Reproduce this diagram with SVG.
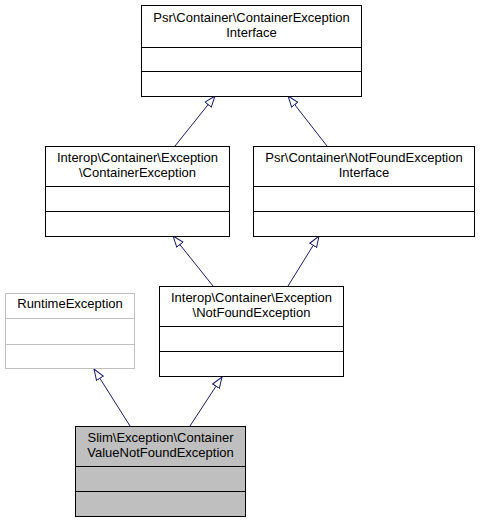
<svg xmlns="http://www.w3.org/2000/svg" width="481" height="523" viewBox="0 0 481 523">
<style>
text{font-family:"Liberation Sans",Arial,sans-serif;font-size:13px;fill:#000;text-anchor:middle}
.box{fill:#fff;stroke:#000;stroke-width:1}
.gray{fill:#fff;stroke:#bfbfbf;stroke-width:1}
.cur{fill:#bfbfbf;stroke:#000;stroke-width:1}
.sep{stroke:#000;stroke-width:1}
.sepg{stroke:#bfbfbf;stroke-width:1}
.edge{fill:none;stroke:#191970;stroke-width:1;marker-end:url(#tri)}
</style>
<defs>
<marker id="tri" markerUnits="userSpaceOnUse" viewBox="0 0 12 10" refX="11.5" refY="5" markerWidth="12" markerHeight="10" orient="auto">
<path d="M0.5,1 L11.5,5 L0.5,9 Z" fill="#fff" stroke="#191970" stroke-width="1"/>
</marker>
</defs>
<g id="edges">
<path class="edge" d="M175,146 L215,96"/>
<path class="edge" d="M327,146 L288,96"/>
<path class="edge" d="M213,286 L173,236"/>
<path class="edge" d="M288,286 L319,236"/>
<path class="edge" d="M130,426 L94,369"/>
<path class="edge" d="M190,426 L222,377"/>
</g>
<g id="node_psr_container_exception_interface">
<rect class="box" x="141.5" y="5.5" width="220" height="91"/>
<line class="sep" x1="141.5" y1="47.5" x2="361.5" y2="47.5"/>
<line class="sep" x1="141.5" y1="71.5" x2="361.5" y2="71.5"/>
<text x="251.5" y="22">Psr\Container\ContainerException</text>
<text x="251.5" y="37">Interface</text>
</g>
<g id="node_interop_container_exception">
<rect class="box" x="45.5" y="146.5" width="184" height="90"/>
<line class="sep" x1="45.5" y1="186.5" x2="229.5" y2="186.5"/>
<line class="sep" x1="45.5" y1="211.5" x2="229.5" y2="211.5"/>
<text x="137.5" y="162">Interop\Container\Exception</text>
<text x="137.5" y="177">\ContainerException</text>
</g>
<g id="node_psr_notfound_interface">
<rect class="box" x="253.5" y="146.5" width="221" height="90"/>
<line class="sep" x1="253.5" y1="186.5" x2="474.5" y2="186.5"/>
<line class="sep" x1="253.5" y1="211.5" x2="474.5" y2="211.5"/>
<text x="364" y="162">Psr\Container\NotFoundException</text>
<text x="364" y="177">Interface</text>
</g>
<g id="node_runtime_exception">
<rect class="gray" x="5.5" y="293.5" width="129" height="75"/>
<line class="sepg" x1="5.5" y1="318.5" x2="134.5" y2="318.5"/>
<line class="sepg" x1="5.5" y1="344.5" x2="134.5" y2="344.5"/>
<text x="70" y="308">RuntimeException</text>
</g>
<g id="node_interop_notfound_exception">
<rect class="box" x="159.5" y="286.5" width="184" height="90"/>
<line class="sep" x1="159.5" y1="326.5" x2="343.5" y2="326.5"/>
<line class="sep" x1="159.5" y1="351.5" x2="343.5" y2="351.5"/>
<text x="251.5" y="302">Interop\Container\Exception</text>
<text x="251.5" y="317">\NotFoundException</text>
</g>
<g id="node_slim_container_value_notfound">
<rect class="cur" x="75.5" y="426.5" width="170" height="90"/>
<line class="sep" x1="75.5" y1="466.5" x2="245.5" y2="466.5"/>
<line class="sep" x1="75.5" y1="491.5" x2="245.5" y2="491.5"/>
<text x="160.5" y="442">Slim\Exception\Container</text>
<text x="160.5" y="457">ValueNotFoundException</text>
</g>
</svg>
